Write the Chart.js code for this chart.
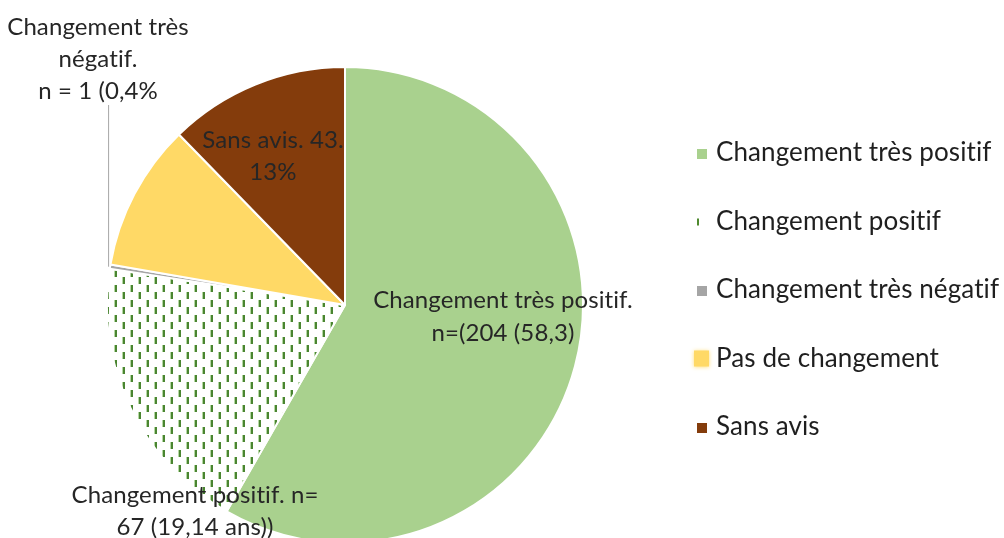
<!DOCTYPE html>
<html lang="fr">
<head>
<meta charset="UTF-8">
<title>Changement perçu</title>
<script src="https://cdn.jsdelivr.net/npm/chart.js"></script>
<style>
    html, body { margin: 0; padding: 0; background: #fff; overflow: hidden; }
    .cadre { width: 1004px; height: 538px; overflow: hidden; position: relative; }
</style>
</head>
<body>
<div class="cadre"><canvas id="chart" width="1004" height="580"></canvas></div>
<script>
    // données
    const categories = ['Changement très positif', 'Changement positif', 'Changement très négatif', 'Pas de changement', 'Sans avis'];
    const effectifs = [204, 67, 1, 35, 43];
    const etiquettes = [
        ['Changement très positif.', 'n=(204 (58,3)'],
        ['Changement positif. n=', '67 (19,14 ans))'],
        ['Changement très', 'négatif.', 'n = 1 (0,4%'],
        [],
        ['Sans avis. 43.', '13%']
    ];

    // position des étiquettes par rapport au centre du camembert
    const decalages = [
        {dx: 158, dy: -5, pas: 33},
        {dx: -150, dy: 190, pas: 32},
        {dx: -247, dy: -278, pas: 32},
        null,
        {dx: -72, dy: -165, pas: 32}
    ];

    const POLICE = 'Lato, "Open Sans", sans-serif';

    function motifTirets() {
        const c = document.createElement('canvas');
        c.width = 16; c.height = 15;
        const g = c.getContext('2d');
        g.fillStyle = '#fff';
        g.fillRect(0, 0, 16, 15);
        const tiret = (x, y) => {
            g.fillStyle = '#b5d8a3';
            g.fillRect(x - 1, y, 1, 7);
            g.fillStyle = '#4a8531';
            g.fillRect(x, y, 2, 7);
        };
        tiret(3, 0);
        tiret(11, 7);
        tiret(11, -8);
        return g.createPattern(c, 'repeat');
    }

    const couleurs = ['#a9d18e', motifTirets(), '#a5a5a5', '#ffd966', '#843c0c'];

    const pluginEtiquettes = {
        id: 'etiquettes',
        afterDatasetsDraw(chart) {
            const ctx = chart.ctx;
            const arcs = chart.getDatasetMeta(0).data;
            ctx.save();
            // trait de rappel pour la petite part grise
            const a = arcs[2];
            const milieu = (a.startAngle + a.endAngle) / 2;
            const px = a.x + Math.cos(milieu) * a.outerRadius;
            const py = a.y + Math.sin(milieu) * a.outerRadius;
            ctx.strokeStyle = '#a6a6a6';
            ctx.lineWidth = 1;
            ctx.beginPath();
            ctx.moveTo(px - 1.5, a.y - 200);
            ctx.lineTo(px - 1.5, py);
            ctx.stroke();

            ctx.fillStyle = '#262626';
            ctx.font = '24px ' + POLICE;
            ctx.letterSpacing = '0.1px';
            ctx.textAlign = 'center';
            ctx.textBaseline = 'middle';
            etiquettes.forEach((lignes, i) => {
                const d = decalages[i];
                if (!d) return;
                const arc = arcs[i];
                lignes.forEach((t, k) => {
                    ctx.fillText(t, arc.x + d.dx, arc.y + d.dy + k * d.pas);
                });
            });
            ctx.restore();
        }
    };

    const pluginLegende = {
        id: 'legendeMaison',
        afterDraw(chart) {
            const ctx = chart.ctx;
            const x0 = 697, y0 = 153, pas = 68.5;
            ctx.save();
            ctx.font = '26px ' + POLICE;
            ctx.letterSpacing = '0.1px';
            ctx.textAlign = 'left';
            ctx.textBaseline = 'middle';
            categories.forEach((nom, i) => {
                const y = y0 + i * pas;
                if (i === 1) {
                    ctx.fillStyle = '#4f8a2e';
                    ctx.fillRect(x0, y - 3, 2, 7);
                } else if (i === 3) {
                    ctx.shadowColor = 'rgba(255,217,102,0.9)';
                    ctx.shadowBlur = 4;
                    ctx.fillStyle = couleurs[i];
                    ctx.fillRect(x0 - 3, y - 8, 15, 16);
                    ctx.shadowBlur = 0;
                } else {
                    ctx.fillStyle = couleurs[i];
                    ctx.fillRect(x0, y - 4, 10, 10);
                }
                ctx.fillStyle = '#1f1f1f';
                ctx.fillText(nom, 716, y);
            });
            ctx.restore();
        }
    };

    const ctx = document.getElementById('chart').getContext('2d');
    const chart = new Chart(ctx, {
        type: 'pie',
        data: {
            labels: categories,
            datasets: [{
                data: effectifs,
                backgroundColor: couleurs,
                borderColor: '#ffffff',
                borderWidth: 2
            }]
        },
        options: {
            responsive: false,
            animation: false,
            layout: { padding: { left: 106, top: 66, right: 420, bottom: 36 } },
            plugins: {
                legend: { display: false },
                tooltip: { enabled: false }
            }
        },
        plugins: [pluginEtiquettes, pluginLegende]
    });
</script>
</body>
</html>
